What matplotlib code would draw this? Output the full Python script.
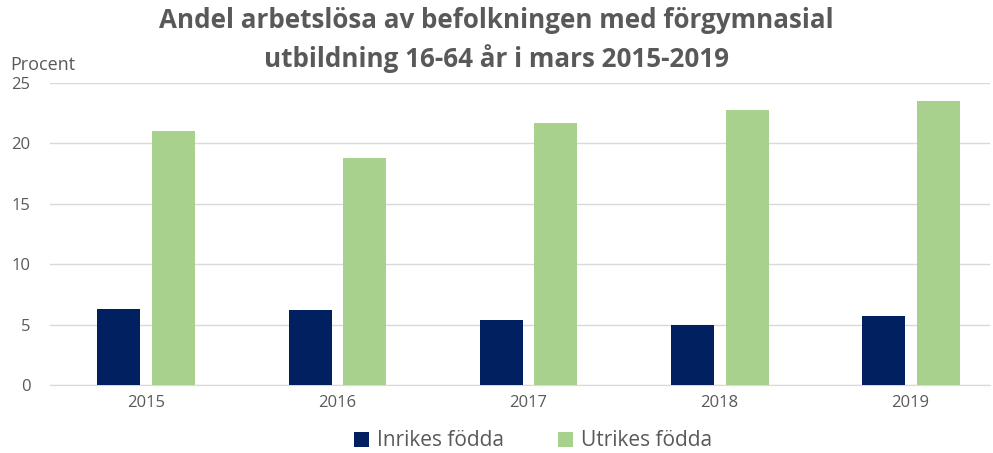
import numpy as np
import matplotlib
matplotlib.use("Agg")
from matplotlib import pyplot as plt

plt.rcParams['font.family'] = ['Open Sans', 'DejaVu Sans']

# --- Data
years = ["2015", "2016", "2017", "2018", "2019"]
inrikes = [6.3, 6.2, 5.4, 5.0, 5.7]
utrikes = [21.0, 18.8, 21.7, 22.8, 23.5]

col_in = "#002060"
col_ut = "#a9d18e"
grey = "#595959"

fig = plt.figure(figsize=(9.93, 4.53), dpi=100)
ax = fig.add_axes([50 / 993, 1 - 385 / 453, 940 / 993, 302 / 453])

x = np.arange(len(years))
w = 0.225
ax.bar(x - 0.14, inrikes, width=w, color=col_in, label="Inrikes födda", zorder=3)
ax.bar(x + 0.145, utrikes, width=w, color=col_ut, label="Utrikes födda", zorder=3)

# plot area is cut on the right in the original picture
ax.set_xlim(-0.5, -0.5 + 940 / 191.25)
ax.set_ylim(0, 25)
ax.set_yticks(np.arange(0, 26, 5))
ax.set_xticks(x)
ax.set_xticklabels(years)
ax.yaxis.grid(True, color="#d9d9d9", linewidth=1, zorder=0)
for s in ["top", "right", "left"]:
    ax.spines[s].set_visible(False)
ax.spines["bottom"].set_color("#d9d9d9")
ax.tick_params(axis="both", length=0, labelsize=12, colors=grey)
ax.tick_params(axis="y", pad=14)
ax.tick_params(axis="x", pad=7)

fig.text(10 / 993, 1 - 65 / 453, "Procent", fontsize=13, color=grey, va="center")
fig.text(0.5, 1 - 40 / 453,
         "Andel arbetslösa av befolkningen med förgymnasial\nutbildning 16-64 år i mars 2015-2019",
         ha="center", va="center", fontsize=18.7, fontweight="bold", color=grey,
         linespacing=1.4)

fig.legend(loc="center", bbox_to_anchor=(533 / 993, 1 - 441 / 453), ncol=2, frameon=False,
           fontsize=15, labelcolor=grey, handlelength=0.7, handleheight=0.7,
           columnspacing=2.6, handletextpad=0.4)

fig.savefig("out.png", dpi=100)
